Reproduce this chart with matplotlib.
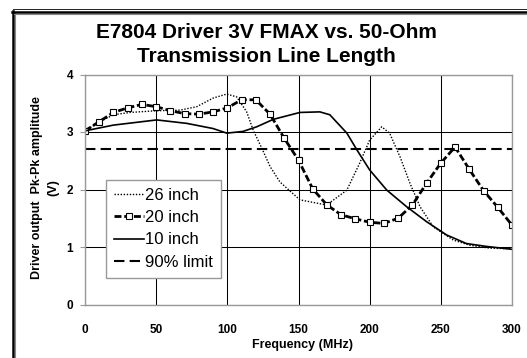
import numpy as np
import matplotlib
matplotlib.use("Agg")
import matplotlib.pyplot as plt
from matplotlib.lines import Line2D

plt.rcParams['font.family'] = ['Liberation Sans', 'DejaVu Sans']

# 26 inch (dotted)
f26 = [0, 10.5, 20, 31.6, 50.4, 66.7, 78.5, 90, 99.6, 106.6, 113.6, 118.2, 124.2, 130,
       137, 151, 169.8, 184, 193, 200, 208.5, 214, 221.3, 228.3, 235.4, 244.7, 258.8,
       270.5, 284.5, 300]
v26 = [3.02, 3.18, 3.30, 3.34, 3.37, 3.38, 3.44, 3.59, 3.66, 3.61, 3.35, 3.03, 2.72, 2.40,
       2.13, 1.82, 1.73, 1.99, 2.46, 2.86, 3.09, 2.98, 2.57, 2.11, 1.70, 1.35, 1.12,
       1.03, 0.98, 0.97]

# 20 inch (markers every 10 MHz)
f20 = list(range(0, 301, 10))
v20 = [3.02, 3.18, 3.34, 3.42, 3.48, 3.44, 3.37, 3.32, 3.31, 3.35, 3.42, 3.56, 3.56, 3.31,
       2.89, 2.51, 2.01, 1.73, 1.56, 1.49, 1.43, 1.41, 1.50, 1.73, 2.11, 2.46, 2.74,
       2.35, 1.98, 1.69, 1.38]

# 10 inch (solid)
f10 = [0, 20, 50.4, 71.5, 90, 99.6, 111, 120.6, 132.3, 151, 165, 172, 184, 191, 200,
       212, 226, 240, 254, 268, 282, 300]
v10 = [3.02, 3.12, 3.21, 3.15, 3.06, 2.98, 3.01, 3.09, 3.22, 3.34, 3.35, 3.30, 2.98, 2.69,
       2.34, 1.99, 1.70, 1.44, 1.21, 1.06, 1.01, 0.96]

limit_x = [0, 300]
limit_v = [2.7, 2.7]

W, H = 527, 358
fig = plt.figure(figsize=(W / 100, H / 100), dpi=100)
ax = fig.add_axes([85 / W, 1 - 304.5 / H, (512 - 85) / W, (304.5 - 74.5) / H])

ax.plot(f26, v26, color='black', lw=1.0, dashes=(1, 1.2), label='26 inch')
ax.plot(f20, v20, color='black', lw=2.0, dashes=(2.5, 1.0), marker='s', markersize=3.8,
        markerfacecolor='white', markeredgecolor='black', markeredgewidth=0.8, label='20 inch')
ax.plot(f10, v10, color='black', lw=1.2, label='10 inch')
ax.plot(limit_x, limit_v, color='black', lw=1.5, dashes=(5, 2.5), label='90% limit')

ax.set_xlim(0, 300)
ax.set_ylim(0, 4)
ax.set_xticks(range(0, 301, 50))
ax.set_yticks(range(0, 5))
ax.grid(True, color='black', lw=0.75)
ax.set_axisbelow(True)
for s in ax.spines.values():
    s.set_color('#999999')
    s.set_linewidth(1.0)
ax.tick_params(axis='y', length=3.5, width=0.8, color='#999999', pad=5, labelsize=8.5)
ax.tick_params(axis='x', length=0, pad=14, labelsize=8.5)
for lab in ax.get_xticklabels() + ax.get_yticklabels():
    lab.set_fontweight('bold')

fig.text(302 / W, 1 - 345 / H, 'Frequency (MHz)', ha='center', va='center',
         fontsize=9, fontweight='bold')
fig.text(37.3 / W, 1 - 187.5 / H, 'Driver output  Pk-Pk amplitude', ha='center', va='center',
         rotation=90, fontsize=9, fontweight='bold')
fig.text(53.3 / W, 1 - 188 / H, '(V)', ha='center', va='center',
         rotation=90, fontsize=9, fontweight='bold')

fig.text(266 / W, 1 - 32 / H, 'E7804 Driver 3V FMAX vs. 50-Ohm', ha='center', va='center',
         fontsize=15, fontweight='bold')
fig.text(266 / W, 1 - 56 / H, 'Transmission Line Length', ha='center', va='center',
         fontsize=15, fontweight='bold')

leg = ax.legend(loc='upper left', bbox_to_anchor=(106 / W, 1 - 180 / H),
                bbox_transform=fig.transFigure, fontsize=12, frameon=True, fancybox=False,
                framealpha=1, edgecolor='#999999', borderpad=0.45, labelspacing=0.45,
                handlelength=1.8, handletextpad=0.1, borderaxespad=0)
leg.get_frame().set_linewidth(1.0)

# outer border (left and top only)
fig.add_artist(Line2D([12.7 / W, 12.7 / W], [0, 1 - 11 / H], transform=fig.transFigure,
                      color='black', lw=1.8))
fig.add_artist(Line2D([14.5 / W, 14.5 / W], [0, 1 - 13 / H], transform=fig.transFigure,
                      color='#888888', lw=0.8))
fig.add_artist(Line2D([12 / W, 1], [1 - 11.7 / H, 1 - 11.7 / H], transform=fig.transFigure,
                      color='black', lw=1.8))
fig.add_artist(Line2D([14 / W, 1], [1 - 13.6 / H, 1 - 13.6 / H], transform=fig.transFigure,
                      color='#888888', lw=0.8))
fig.add_artist(Line2D([13 / W, 1], [1 - 9 / H, 1 - 9 / H], transform=fig.transFigure,
                      color='black', lw=0.6))

fig.savefig('out.png', dpi=100)
